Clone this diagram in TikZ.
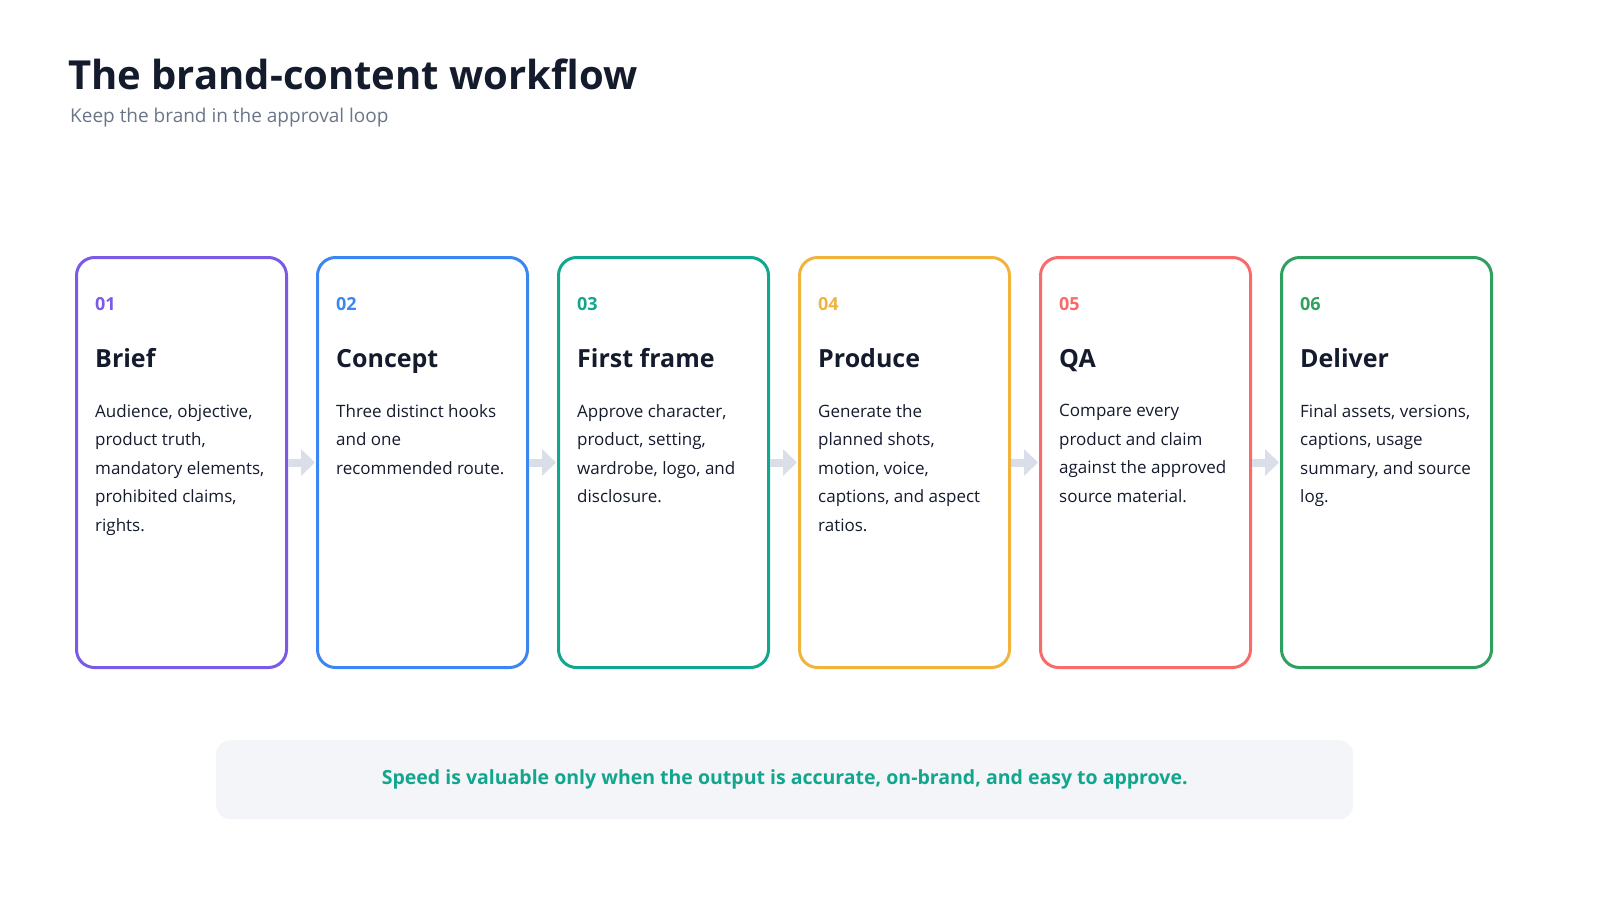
\documentclass[tikz,border=0pt]{standalone}
\usepackage{fontspec}
\setmainfont{Open Sans}
\usetikzlibrary{positioning,arrows.meta}
\definecolor{ink}{HTML}{141B2D}
\definecolor{subgray}{HTML}{6B7588}
\definecolor{arrowgray}{HTML}{D9DEE8}
\definecolor{footfill}{HTML}{F3F5F9}
\definecolor{cPurple}{HTML}{7B5AE6}
\definecolor{cBlue}{HTML}{3B86F2}
\definecolor{cTeal}{HTML}{12A68E}
\definecolor{cAmber}{HTML}{F2B33D}
\definecolor{cRed}{HTML}{F76B6B}
\definecolor{cGreen}{HTML}{30A060}
\newcommand\nohyph{\hyphenpenalty=10000 \exhyphenpenalty=10000 }
\tikzset{
  card/.style={draw=#1, line width=3pt, rounded corners=18pt, minimum width=210pt, minimum height=410pt, anchor=north west},
  num/.style={text=#1, font=\fontsize{18}{18}\selectfont\bfseries, anchor=base west, inner sep=0pt},
  ttl/.style={text=ink, font=\fontsize{25}{25}\selectfont\bfseries, anchor=base west, inner sep=0pt},
  body/.style={text=ink, font=\fontsize{17}{28.5}\selectfont, anchor=north west, inner sep=0pt, text width=172pt, align=flush left},
  link/.style={draw=arrowgray, line width=8pt, -{Triangle[length=14pt,width=26pt]}}
}
\begin{document}
\begin{tikzpicture}[x=1pt,y=-1pt]
    \useasboundingbox (0,0) rectangle (1600,900);
    \node[text=ink, font=\fontsize{40}{40}\selectfont\bfseries, anchor=base west, inner sep=0pt] (title) at (68,89) {The brand-content workflow};
    \node[text=subgray, font=\fontsize{19}{19}\selectfont, anchor=base west, inner sep=0pt] (subtitle) at (70,122) {Keep the brand in the approval loop};
    % cards
    \foreach \i/\col/\nm/\hd/\tx in {
      1/cPurple/01/Brief/{Audience, objective, product truth, mandatory elements, prohibited claims, rights.},
      2/cBlue/02/Concept/{Three distinct hooks and one recommended route.},
      3/cTeal/03/First frame/{Approve character, product, setting, wardrobe, logo, and disclosure.},
      4/cAmber/04/Produce/{Generate the planned shots, motion, voice, captions, and aspect ratios.},
      5/cRed/05/QA/{Compare every product and claim against the approved source material.},
      6/cGreen/06/Deliver/{Final assets, versions, captions, usage summary, and source log.}} {
      \pgfmathsetmacro{\xx}{75+241*(\i-1)}
      \node[card=\col] (card\i) at (\xx,256) {};
      \node[num=\col] (num\i) at (\xx+20,310) {\nm};
      \node[ttl] (head\i) at (\xx+20,367) {\hd};
      \node[body] (text\i) at (\xx+20,404) {\nohyph\tx};
    }
    % links
    \foreach \i [evaluate=\i as \j using int(\i+1)] in {1,...,5}
      \draw[link] (card\i.east) -- ([xshift=-1pt]card\j.west);
    % footer
    \node[fill=footfill, rounded corners=14pt, minimum width=1137pt, minimum height=79pt, anchor=north west] (footer) at (216,740) {};
    \node[text=cTeal, font=\fontsize{19.5}{20}\selectfont\bfseries] (note) at (footer.center) {Speed is valuable only when the output is accurate, on-brand, and easy to approve.};
\end{tikzpicture}
\end{document}
